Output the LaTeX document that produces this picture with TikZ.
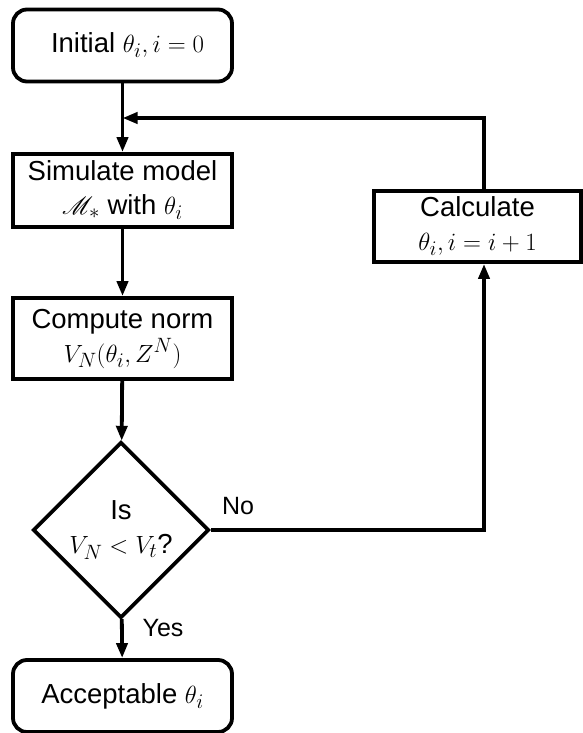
\documentclass[tikz,border=0pt]{standalone}
\usepackage{fontspec}
\setmainfont{Liberation Sans}
\usepackage{mathrsfs}
\usetikzlibrary{arrows.meta,shapes.geometric}
\begin{document}
\begin{tikzpicture}[x=1pt,y=1pt,
  every node/.style={font=\fontsize{27.5}{34}\selectfont},
  flowbox/.style={draw,line width=3.8pt,minimum width=219pt,inner sep=2pt,align=center},
  termbox/.style={flowbox,rounded corners=14pt},
  decision/.style={draw,line width=3.8pt,shape=diamond,aspect=1,minimum width=176pt,minimum height=176pt,inner sep=0pt,align=center},
  conn/.style={line width=3.8pt},
  arr/.style={conn,-{Triangle[width=11pt,length=15pt]}},
  lbl/.style={font=\fontsize{25}{28}\selectfont}
]
\useasboundingbox (0,0) rectangle (582,-733);
\node[termbox,minimum height=72pt] (init) at (122.5,-45.5) {\hspace*{10pt}Initial $\theta_i, i=0$};
\node[flowbox,minimum height=73pt] (sim) at (122.5,-190.5) {Simulate model\\$\mathscr{M}_*$ with $\theta_i$};
\node[flowbox,minimum height=81pt] (norm) at (122.5,-338.5) {Compute norm\\$V_N(\theta_i, Z^N)$};
\node[decision] (dec) at (121,-530) {Is\\$V_N<V_t$?};
\node[termbox,minimum height=72pt] (acc) at (122.5,-696) {Acceptable $\theta_i$};
\node[flowbox,minimum width=207pt,minimum height=71pt] (calc) at (477.5,-226.5) {Calculate\\$\theta_i, i=i+1$};
\coordinate (cx) at (484,-118);
\coordinate (join) at (122.5,-118);
\node[lbl] (no) at (238,-506) {No};
\node[lbl] (yes) at (163,-628) {Yes};
\draw[arr] (init) -- (sim);
\draw[arr] (sim) -- (norm);
\draw[arr] (norm) -- (dec);
\draw[arr] (dec) -- (acc);
\draw[arr] (dec.east) -| (calc.south -| cx);
\draw[arr] (calc.north -| cx) |- (join);
\end{tikzpicture}
\end{document}
